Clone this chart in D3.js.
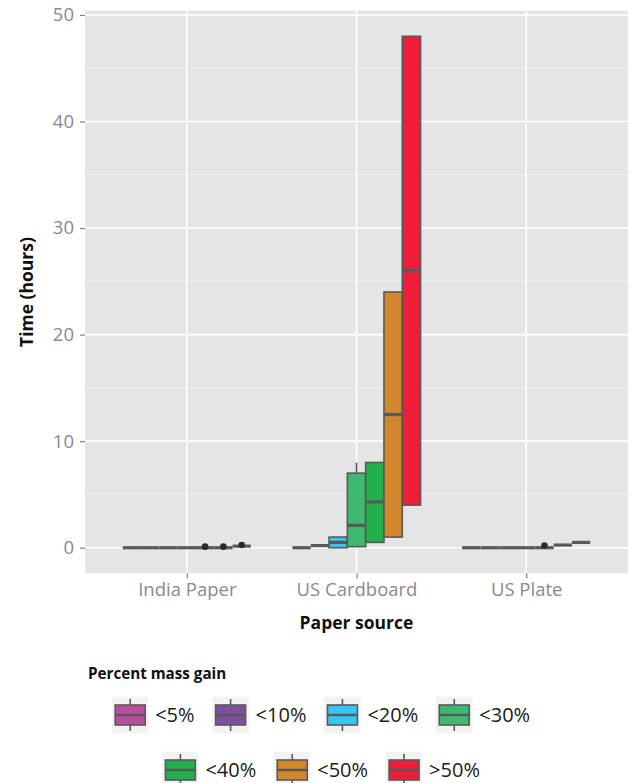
<!DOCTYPE html>
<html>
<head>
<meta charset="utf-8">
<script src="https://cdn.jsdelivr.net/npm/d3@7"></script>
<style>
  html, body { margin: 0; padding: 0; background: #ffffff; }
  svg { display: block; font-family: "Open Sans", "Noto Sans", sans-serif; }
</style>
</head>
<body>
<svg id="chart" width="633" height="783"></svg>
<script>
// Paper sources on the x axis
const categories = ["India Paper", "US Cardboard", "US Plate"];
// Percent mass gain groups (dodged boxes)
const groups = ["<5%", "<10%", "<20%", "<30%", "<40%", "<50%", ">50%"];
const groupColors = ["#BA4E9E", "#7F4F9F", "#35C6F4", "#3DBA6F", "#21B04B", "#D1872B", "#EE1D3A"];

// Box statistics per group: [lower whisker, q1, median, q3, upper whisker] (hours)
const indiaPaperStats = [
  [0, 0, 0, 0, 0], [0, 0, 0, 0, 0], [0, 0, 0, 0, 0], [0, 0, 0, 0, 0],
  [0, 0, 0, 0, 0], [0, 0, 0, 0, 0], [0.15, 0.15, 0.15, 0.15, 0.15]
];
const usCardboardStats = [
  [0, 0, 0, 0, 0], [0.2, 0.2, 0.2, 0.2, 0.2], [0, 0, 0.5, 1, 1], [0.1, 0.1, 2.1, 7, 8],
  [0.5, 0.5, 4.3, 8, 8], [1, 1, 12.5, 24, 24], [4, 4, 26, 48, 48]
];
const usPlateStats = [
  [0, 0, 0, 0, 0], [0, 0, 0, 0, 0], [0, 0, 0, 0, 0], [0, 0, 0, 0, 0],
  [0, 0, 0, 0, 0], [0.25, 0.25, 0.25, 0.25, 0.25], [0.5, 0.5, 0.5, 0.5, 0.5]
];
// Outlying observations per group
const indiaPaperOutliers = [[], [], [], [], [0.1], [0.1], [0.25]];
const usCardboardOutliers = [[], [], [], [], [], [], []];
const usPlateOutliers = [[], [], [], [], [0.2], [], []];

const yTicks = [0, 10, 20, 30, 40, 50];
const yMinorTicks = [5, 15, 25, 35, 45];

const statsByCategory = [indiaPaperStats, usCardboardStats, usPlateStats];
const outliersByCategory = [indiaPaperOutliers, usCardboardOutliers, usPlateOutliers];

const svg = d3.select("#chart");
const panel = { left: 85, right: 628, top: 10.7, bottom: 573.3 };

const x = d3.scalePoint().domain(categories).range([panel.left, panel.right]).padding(0.6);
const dodgeWidth = x.step() * 0.755;
const xg = d3.scaleBand().domain(groups).range([-dodgeWidth / 2, dodgeWidth / 2]).paddingInner(0);
const y = d3.scaleLinear().domain([-2.4, 50.4]).range([panel.bottom, panel.top]);
const color = d3.scaleOrdinal().domain(groups).range(groupColors);

const boxStroke = "#595959";
const strokeW = 1.6;

// Panel background and grid
svg.append("rect")
  .attr("x", panel.left).attr("y", panel.top)
  .attr("width", panel.right - panel.left).attr("height", panel.bottom - panel.top)
  .attr("fill", "#E5E5E5");

svg.append("g").selectAll("line").data(yMinorTicks).join("line")
  .attr("x1", panel.left).attr("x2", panel.right)
  .attr("y1", d => y(d)).attr("y2", d => y(d))
  .attr("stroke", "#F2F2F2").attr("stroke-width", 1);

svg.append("g").selectAll("line").data(yTicks).join("line")
  .attr("x1", panel.left).attr("x2", panel.right)
  .attr("y1", d => y(d)).attr("y2", d => y(d))
  .attr("stroke", "#FFFFFF").attr("stroke-width", 1.6);

svg.append("g").selectAll("line").data(categories).join("line")
  .attr("x1", d => x(d)).attr("x2", d => x(d))
  .attr("y1", panel.top).attr("y2", panel.bottom)
  .attr("stroke", "#FFFFFF").attr("stroke-width", 1.6);

// Boxplots
const boxes = [];
categories.forEach((cat, ci) => {
  groups.forEach((g, gi) => {
    boxes.push({ cat, g, s: statsByCategory[ci][gi], out: outliersByCategory[ci][gi] });
  });
});

const boxG = svg.append("g").selectAll("g").data(boxes).join("g")
  .attr("transform", d => `translate(${x(d.cat) + xg(d.g)},0)`);

const bw = xg.bandwidth();

// whiskers
boxG.append("line")
  .attr("x1", bw / 2).attr("x2", bw / 2)
  .attr("y1", d => y(d.s[3])).attr("y2", d => y(d.s[4]))
  .attr("stroke", boxStroke).attr("stroke-width", strokeW);
boxG.append("line")
  .attr("x1", bw / 2).attr("x2", bw / 2)
  .attr("y1", d => y(d.s[1])).attr("y2", d => y(d.s[0]))
  .attr("stroke", boxStroke).attr("stroke-width", strokeW);

// boxes
boxG.append("rect")
  .attr("x", 0).attr("width", bw)
  .attr("y", d => y(d.s[3]))
  .attr("height", d => y(d.s[1]) - y(d.s[3]))
  .attr("fill", d => color(d.g))
  .attr("stroke", boxStroke).attr("stroke-width", strokeW);

// medians
boxG.append("line")
  .attr("x1", 0).attr("x2", bw)
  .attr("y1", d => y(d.s[2])).attr("y2", d => y(d.s[2]))
  .attr("stroke", boxStroke).attr("stroke-width", strokeW * 2);

// outliers
boxG.selectAll("circle").data(d => d.out).join("circle")
  .attr("cx", bw / 2).attr("cy", d => y(d)).attr("r", 3.3)
  .attr("fill", "#2b2b2b");

// Axes
const tickColor = "#7F7F7F";
const labelColor = "#8A8A8A";

const yAxis = svg.append("g")
  .attr("transform", `translate(${panel.left},0)`)
  .call(d3.axisLeft(y).tickValues(yTicks).tickSize(5).tickPadding(6).tickFormat(d3.format("d")));
yAxis.select(".domain").remove();
yAxis.selectAll(".tick line").attr("stroke", tickColor).attr("stroke-width", 1.2);
yAxis.selectAll(".tick text")
  .attr("fill", labelColor).attr("font-size", 18.5)
  .attr("font-family", "'Open Sans', sans-serif");

const xAxis = svg.append("g")
  .attr("transform", `translate(0,${panel.bottom})`)
  .call(d3.axisBottom(x).tickSize(5).tickPadding(5));
xAxis.select(".domain").remove();
xAxis.selectAll(".tick line").attr("stroke", tickColor).attr("stroke-width", 1.2);
xAxis.selectAll(".tick text")
  .attr("fill", labelColor).attr("font-size", 18.5)
  .attr("font-family", "'Open Sans', sans-serif");

// Axis titles
svg.append("text")
  .attr("x", (panel.left + panel.right) / 2).attr("y", 629)
  .attr("text-anchor", "middle")
  .attr("font-size", 17.5).attr("font-weight", "bold").attr("fill", "#111")
  .text("Paper source");

svg.append("text")
  .attr("transform", `translate(33,${(panel.top + panel.bottom) / 2}) rotate(-90)`)
  .attr("text-anchor", "middle")
  .attr("font-size", 17.5).attr("font-weight", "bold").attr("fill", "#111")
  .text("Time (hours)");

// Legend
svg.append("text")
  .attr("x", 88).attr("y", 679)
  .attr("font-size", 15.2).attr("font-weight", "bold").attr("fill", "#111")
  .text("Percent mass gain");

const legendRows = [groups.slice(0, 4), groups.slice(4)];
const rowCenters = [715, 770];
const keySize = 36.6;
const labelGap = 6.7;
const itemGap = 17.7;
const legendCenterX = 321;

legendRows.forEach((row, ri) => {
  const rowG = svg.append("g");
  const items = rowG.selectAll("g").data(row).join("g");
  items.append("text")
    .attr("font-size", 20).attr("fill", "#1a1a1a")
    .attr("dy", "0.35em")
    .text(d => d);
  const widths = [];
  items.select("text").each(function () { widths.push(this.getComputedTextLength()); });
  const total = d3.sum(widths) + row.length * (keySize + labelGap) + (row.length - 1) * itemGap;
  let cx = legendCenterX - total / 2;
  const cy = rowCenters[ri];
  items.each(function (d, i) {
    const item = d3.select(this);
    item.attr("transform", `translate(${cx},${cy})`);
    item.insert("rect", "text")
      .attr("x", 0).attr("y", -keySize / 2).attr("width", keySize).attr("height", keySize)
      .attr("fill", "#F2F2F2");
    item.insert("line", "text")
      .attr("x1", keySize / 2).attr("x2", keySize / 2)
      .attr("y1", -16).attr("y2", 16)
      .attr("stroke", boxStroke).attr("stroke-width", strokeW);
    item.insert("rect", "text")
      .attr("x", 3.3).attr("y", -10).attr("width", keySize - 6.6).attr("height", 20)
      .attr("fill", color(d)).attr("stroke", boxStroke).attr("stroke-width", strokeW);
    item.insert("line", "text")
      .attr("x1", 3.3).attr("x2", keySize - 3.3).attr("y1", 0).attr("y2", 0)
      .attr("stroke", boxStroke).attr("stroke-width", strokeW * 1.5);
    item.select("text").attr("x", keySize + labelGap);
    cx += keySize + labelGap + widths[i] + itemGap;
  });
});
</script>
</body>
</html>
